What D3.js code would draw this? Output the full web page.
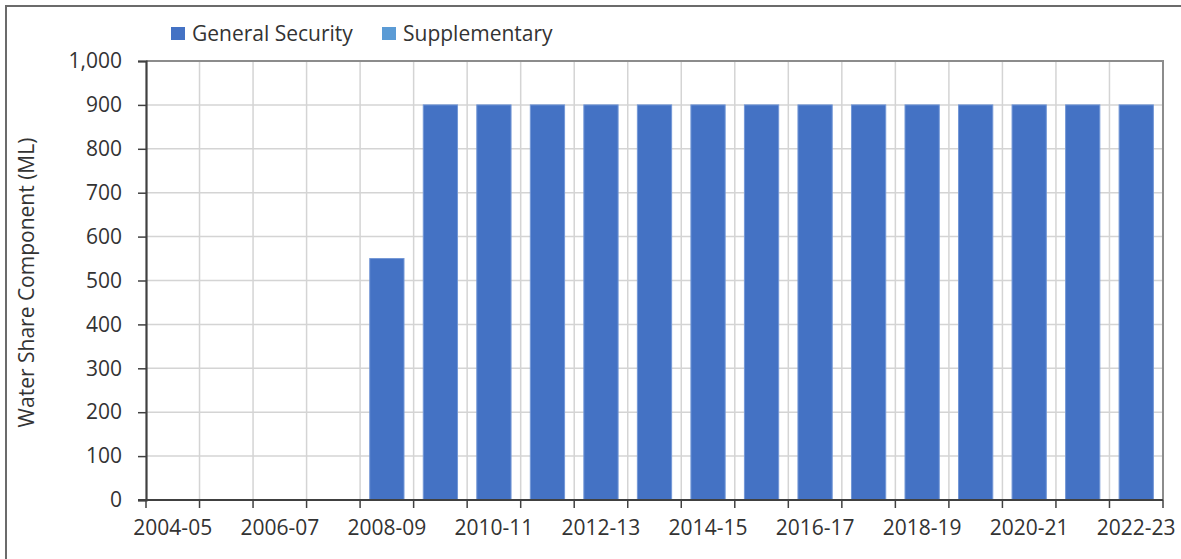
<!DOCTYPE html>
<html>
<head>
<meta charset="utf-8">
<script src="https://cdn.jsdelivr.net/npm/d3@7/dist/d3.min.js"></script>
<style>
  html, body { margin: 0; padding: 0; background: #fff; }
  svg { display: block; }
  text { font-family: "Open Sans", "Noto Sans", sans-serif; fill: #333; }
</style>
</head>
<body>
<svg id="chart" width="1181" height="559"></svg>
<script>
// Financial years shown on the category axis
const years = [
  "2004-05", "2005-06", "2006-07", "2007-08", "2008-09", "2009-10", "2010-11",
  "2011-12", "2012-13", "2013-14", "2014-15", "2015-16", "2016-17", "2017-18",
  "2018-19", "2019-20", "2020-21", "2021-22", "2022-23"
];
// Water share component (ML) by licence category
const generalSecurity = [0, 0, 0, 0, 550, 900, 900, 900, 900, 900, 900, 900, 900, 900, 900, 900, 900, 900, 900];
const supplementary   = [0, 0, 0, 0, 0, 0, 0, 0, 0, 0, 0, 0, 0, 0, 0, 0, 0, 0, 0];
const seriesNames = ["General Security", "Supplementary"];
const seriesColors = ["#4472C4", "#5B9BD5"];
const yTicks = [0, 100, 200, 300, 400, 500, 600, 700, 800, 900, 1000];
const yTitle = "Water Share Component (ML)";

const svg = d3.select("#chart");
const plot = { left: 146, right: 1163, top: 61, bottom: 500 };
const fontSize = "21px";

// Outer chart frame
svg.append("rect")
  .attr("x", 6).attr("y", 6).attr("width", 1200).attr("height", 600)
  .attr("fill", "none").attr("stroke", "#6b6b6b").attr("stroke-width", 2);

const x = d3.scaleBand().domain(years)
  .range([plot.left, plot.right])
  .paddingInner(0.36).paddingOuter(0.18);
const y = d3.scaleLinear().domain([0, 1000]).range([plot.bottom, plot.top]);
const step = x.step();
const boundary = i => plot.left + i * step;

// Gridlines
const grid = svg.append("g");
grid.selectAll("line.h").data(yTicks.slice(1, -1)).join("line")
  .attr("x1", plot.left).attr("x2", plot.right)
  .attr("y1", d => y(d)).attr("y2", d => y(d))
  .attr("stroke", "#d4d4d4").attr("stroke-width", 1.5);
grid.selectAll("line.v").data(d3.range(1, years.length)).join("line")
  .attr("x1", boundary).attr("x2", boundary)
  .attr("y1", plot.top).attr("y2", plot.bottom)
  .attr("stroke", "#d4d4d4").attr("stroke-width", 1.5);

// Plot area top and right edges
svg.append("path")
  .attr("d", `M${plot.left},${y(1000)}H${plot.right}V${plot.bottom}`)
  .attr("fill", "none").attr("stroke", "#8c8c8c").attr("stroke-width", 2);

// Stacked bars
const rows = years.map((yr, i) => ({ year: yr, gs: generalSecurity[i], sup: supplementary[i] }));
const stacked = d3.stack().keys(["gs", "sup"])(rows);
svg.append("g").selectAll("g").data(stacked).join("g")
  .attr("fill", (d, i) => seriesColors[i])
  .selectAll("rect").data(d => d.filter(p => p[1] - p[0] > 0)).join("rect")
  .attr("x", d => x(d.data.year))
  .attr("width", x.bandwidth())
  .attr("y", d => y(d[1]))
  .attr("height", d => y(d[0]) - y(d[1]))
  .attr("stroke", "#7397d6").attr("stroke-width", 1);

// Y axis
const yAxis = svg.append("g").attr("transform", `translate(${plot.left},0)`)
  .call(d3.axisLeft(y).tickValues(yTicks).tickSize(8).tickPadding(16)
    .tickFormat(d3.format(",")));
yAxis.select(".domain").attr("stroke", "#404040").attr("stroke-width", 2.2);
yAxis.selectAll(".tick line").attr("stroke", "#404040").attr("stroke-width", 1.5);
yAxis.selectAll(".tick text").style("font-size", fontSize).attr("fill", "#333");

// X axis: ticks at category boundaries, labels on every second year
const xAxis = svg.append("g");
xAxis.append("line")
  .attr("x1", plot.left - 8).attr("x2", plot.right)
  .attr("y1", plot.bottom).attr("y2", plot.bottom)
  .attr("stroke", "#404040").attr("stroke-width", 2.2);
xAxis.selectAll("line.t").data(d3.range(0, years.length + 1)).join("line")
  .attr("x1", boundary).attr("x2", boundary)
  .attr("y1", plot.bottom).attr("y2", plot.bottom + 8)
  .attr("stroke", "#404040").attr("stroke-width", 1.5);
xAxis.selectAll("text").data(years.filter((d, i) => i % 2 === 0)).join("text")
  .attr("x", d => x(d) + x.bandwidth() / 2)
  .attr("y", plot.bottom + 35)
  .attr("text-anchor", "middle")
  .style("font-size", fontSize)
  .text(d => d);

// Y axis title
svg.append("text")
  .attr("transform", `translate(34,${(plot.top + plot.bottom) / 2 + 2}) rotate(-90)`)
  .attr("text-anchor", "middle")
  .style("font-size", fontSize)
  .text(yTitle);

// Legend
const legend = svg.append("g").attr("transform", "translate(171,27)");
const item = legend.selectAll("g").data(seriesNames).join("g")
  .attr("transform", (d, i) => `translate(${i * 211},0)`);
item.append("rect").attr("width", 14).attr("height", 13)
  .attr("fill", (d, i) => seriesColors[i]);
item.append("text").attr("x", 21).attr("y", 14)
  .style("font-size", fontSize).text(d => d);
</script>
</body>
</html>
